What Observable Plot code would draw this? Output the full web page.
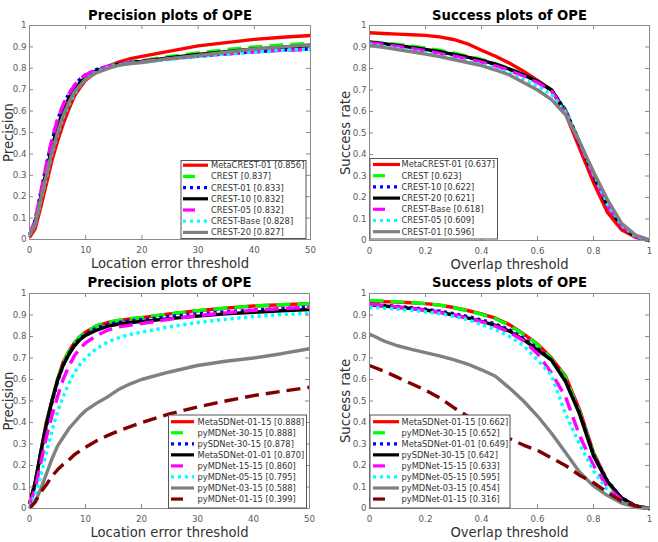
<!DOCTYPE html>
<html>
<head>
<meta charset="utf-8">
<script src="https://cdn.jsdelivr.net/npm/d3@7"></script>
<script src="https://cdn.jsdelivr.net/npm/@observablehq/plot@0.6"></script>
<style>
  body { margin: 0; background: #fff; }
  #chart { position: relative; width: 658px; height: 542px; overflow: hidden; background: #fff; font-family: "DejaVu Sans", sans-serif; }
  #chart svg { position: absolute; }
</style>
</head>
<body>
<div id="chart"></div>
<script>
// ---- thresholds (x values) and tick labels ----
const errorThresholds = [0, 1, 2, 3, 4, 5, 6, 7, 8, 9, 10, 12, 14, 16, 18, 20, 25, 30, 35, 40, 45, 50];
const overlapThresholds = [0, 0.05, 0.1, 0.15, 0.2, 0.25, 0.3, 0.35, 0.4, 0.45, 0.5, 0.55, 0.6, 0.65, 0.7, 0.75, 0.8, 0.85, 0.9, 0.95, 1];
const errorTicks = [0, 10, 20, 30, 40, 50];
const overlapTicks = [0, 0.2, 0.4, 0.6, 0.8, 1];
const rateTicks = [0, 0.1, 0.2, 0.3, 0.4, 0.5, 0.6, 0.7, 0.8, 0.9, 1];

// ---- series appearance, in legend order ----
const seriesColors = ["#ff0000", "#00ff00", "#0000ff", "#000000", "#ff00ff", "#00ffff", "#808080", "#800000"];
const seriesKinds = ["solid", "dash", "dot", "solid", "dash", "dot", "solid", "dash"];

// ---- CREST: precision plot ----
const crestPrecNames = ["MetaCREST-01", "CREST", "CREST-01", "CREST-10", "CREST-05", "CREST-Base", "CREST-20"];
const crestPrecScores = [0.856, 0.837, 0.833, 0.832, 0.832, 0.828, 0.827];
const crestPrecCurves = [
  [0.01, 0.05, 0.15, 0.26, 0.37, 0.46, 0.54, 0.61, 0.67, 0.71, 0.745, 0.785, 0.81, 0.83, 0.845, 0.856, 0.88, 0.905, 0.92, 0.935, 0.945, 0.953],
  [0.02, 0.07, 0.18, 0.30, 0.41, 0.50, 0.58, 0.64, 0.69, 0.725, 0.755, 0.79, 0.81, 0.822, 0.831, 0.837, 0.855, 0.872, 0.887, 0.90, 0.909, 0.917],
  [0.02, 0.09, 0.22, 0.35, 0.46, 0.56, 0.63, 0.68, 0.72, 0.75, 0.77, 0.795, 0.81, 0.82, 0.828, 0.833, 0.845, 0.857, 0.868, 0.877, 0.885, 0.89],
  [0.02, 0.08, 0.20, 0.32, 0.43, 0.53, 0.60, 0.66, 0.70, 0.735, 0.76, 0.79, 0.805, 0.818, 0.826, 0.832, 0.85, 0.865, 0.878, 0.89, 0.898, 0.905],
  [0.02, 0.09, 0.22, 0.35, 0.47, 0.56, 0.63, 0.68, 0.72, 0.75, 0.77, 0.795, 0.81, 0.82, 0.827, 0.832, 0.845, 0.857, 0.867, 0.877, 0.884, 0.888],
  [0.02, 0.07, 0.18, 0.29, 0.40, 0.49, 0.57, 0.63, 0.68, 0.72, 0.75, 0.785, 0.805, 0.816, 0.823, 0.828, 0.842, 0.855, 0.866, 0.876, 0.884, 0.89],
  [0.02, 0.07, 0.19, 0.30, 0.41, 0.50, 0.58, 0.64, 0.69, 0.72, 0.75, 0.78, 0.80, 0.815, 0.822, 0.827, 0.845, 0.86, 0.875, 0.89, 0.90, 0.91]
];

// ---- CREST: success plot ----
const crestSuccNames = ["MetaCREST-01", "CREST", "CREST-10", "CREST-20", "CREST-Base", "CREST-05", "CREST-01"];
const crestSuccScores = [0.637, 0.623, 0.622, 0.621, 0.618, 0.609, 0.596];
const crestSuccCurves = [
  [0.966, 0.963, 0.960, 0.957, 0.954, 0.947, 0.935, 0.915, 0.885, 0.857, 0.825, 0.787, 0.745, 0.700, 0.590, 0.430, 0.270, 0.130, 0.050, 0.015, 0.0],
  [0.925, 0.918, 0.912, 0.905, 0.895, 0.885, 0.872, 0.858, 0.842, 0.823, 0.800, 0.772, 0.740, 0.700, 0.610, 0.460, 0.305, 0.165, 0.070, 0.020, 0.0],
  [0.921, 0.914, 0.906, 0.897, 0.888, 0.877, 0.865, 0.852, 0.837, 0.819, 0.796, 0.770, 0.739, 0.699, 0.605, 0.458, 0.302, 0.162, 0.069, 0.019, 0.0],
  [0.922, 0.915, 0.907, 0.898, 0.889, 0.878, 0.866, 0.853, 0.838, 0.820, 0.797, 0.771, 0.740, 0.700, 0.600, 0.455, 0.300, 0.160, 0.068, 0.018, 0.0],
  [0.920, 0.912, 0.903, 0.893, 0.882, 0.870, 0.858, 0.845, 0.830, 0.812, 0.790, 0.765, 0.735, 0.695, 0.600, 0.455, 0.300, 0.160, 0.068, 0.018, 0.0],
  [0.912, 0.903, 0.893, 0.883, 0.872, 0.860, 0.847, 0.833, 0.818, 0.800, 0.778, 0.750, 0.718, 0.680, 0.595, 0.460, 0.310, 0.170, 0.072, 0.020, 0.0],
  [0.907, 0.898, 0.888, 0.878, 0.867, 0.855, 0.842, 0.828, 0.813, 0.793, 0.770, 0.735, 0.700, 0.655, 0.585, 0.460, 0.320, 0.190, 0.080, 0.025, 0.003]
];

// ---- MDNet / SDNet: precision plot ----
const netPrecNames = ["MetaSDNet-01-15", "pyMDNet-30-15", "pySDNet-30-15", "MetaSDNet-01-01", "pyMDNet-15-15", "pyMDNet-05-15", "pyMDNet-03-15", "pyMDNet-01-15"];
const netPrecScores = [0.888, 0.888, 0.878, 0.870, 0.860, 0.795, 0.588, 0.399];
const netPrecCurves = [
  [0.02, 0.12, 0.26, 0.40, 0.50, 0.60, 0.68, 0.73, 0.77, 0.80, 0.82, 0.85, 0.865, 0.875, 0.882, 0.888, 0.905, 0.92, 0.932, 0.942, 0.948, 0.953],
  [0.02, 0.11, 0.25, 0.39, 0.50, 0.60, 0.675, 0.73, 0.77, 0.80, 0.82, 0.85, 0.866, 0.876, 0.883, 0.888, 0.905, 0.92, 0.932, 0.942, 0.948, 0.952],
  [0.02, 0.11, 0.25, 0.38, 0.49, 0.59, 0.665, 0.72, 0.76, 0.79, 0.81, 0.84, 0.856, 0.866, 0.873, 0.878, 0.893, 0.905, 0.915, 0.923, 0.93, 0.937],
  [0.02, 0.12, 0.26, 0.39, 0.50, 0.595, 0.665, 0.715, 0.755, 0.785, 0.805, 0.83, 0.848, 0.858, 0.865, 0.87, 0.883, 0.895, 0.905, 0.913, 0.92, 0.925],
  [0.02, 0.09, 0.21, 0.33, 0.43, 0.52, 0.60, 0.66, 0.71, 0.745, 0.77, 0.805, 0.83, 0.845, 0.853, 0.86, 0.88, 0.897, 0.91, 0.922, 0.93, 0.936],
  [0.01, 0.06, 0.15, 0.26, 0.36, 0.45, 0.52, 0.58, 0.63, 0.67, 0.70, 0.745, 0.775, 0.795, 0.81, 0.82, 0.845, 0.865, 0.88, 0.893, 0.902, 0.908],
  [0.005, 0.03, 0.09, 0.16, 0.23, 0.29, 0.33, 0.37, 0.40, 0.43, 0.455, 0.49, 0.52, 0.555, 0.58, 0.60, 0.635, 0.665, 0.685, 0.70, 0.72, 0.743],
  [0.0, 0.03, 0.075, 0.11, 0.15, 0.18, 0.205, 0.225, 0.25, 0.268, 0.285, 0.315, 0.34, 0.362, 0.381, 0.399, 0.44, 0.472, 0.50, 0.525, 0.545, 0.564]
];

// ---- MDNet / SDNet: success plot ----
const netSuccNames = ["MetaSDNet-01-15", "pyMDNet-30-15", "MetaSDNet-01-01", "pySDNet-30-15", "pyMDNet-15-15", "pyMDNet-05-15", "pyMDNet-03-15", "pyMDNet-01-15"];
const netSuccScores = [0.662, 0.652, 0.649, 0.642, 0.633, 0.595, 0.454, 0.316];
const netSuccCurves = [
  [0.964, 0.962, 0.960, 0.957, 0.953, 0.946, 0.935, 0.921, 0.905, 0.885, 0.855, 0.812, 0.765, 0.70, 0.615, 0.46, 0.26, 0.125, 0.045, 0.01, 0.0],
  [0.968, 0.965, 0.962, 0.958, 0.953, 0.946, 0.935, 0.920, 0.903, 0.882, 0.852, 0.81, 0.762, 0.695, 0.61, 0.45, 0.255, 0.12, 0.045, 0.01, 0.0],
  [0.95, 0.945, 0.94, 0.934, 0.927, 0.918, 0.906, 0.893, 0.877, 0.858, 0.832, 0.792, 0.745, 0.69, 0.595, 0.445, 0.25, 0.128, 0.05, 0.012, 0.0],
  [0.947, 0.942, 0.936, 0.93, 0.923, 0.913, 0.9, 0.887, 0.87, 0.852, 0.825, 0.785, 0.738, 0.69, 0.59, 0.44, 0.245, 0.125, 0.05, 0.012, 0.0],
  [0.95, 0.945, 0.938, 0.93, 0.922, 0.912, 0.9, 0.886, 0.868, 0.848, 0.82, 0.78, 0.72, 0.63, 0.52, 0.34, 0.2, 0.1, 0.04, 0.01, 0.0],
  [0.936, 0.932, 0.927, 0.922, 0.915, 0.906, 0.894, 0.878, 0.856, 0.832, 0.8, 0.758, 0.69, 0.62, 0.44, 0.3, 0.175, 0.085, 0.03, 0.008, 0.0],
  [0.812, 0.78, 0.757, 0.74, 0.725, 0.71, 0.692, 0.672, 0.645, 0.615, 0.56, 0.5, 0.43, 0.35, 0.26, 0.17, 0.105, 0.06, 0.025, 0.006, 0.0],
  [0.665, 0.64, 0.61, 0.58, 0.55, 0.515, 0.47, 0.43, 0.395, 0.36, 0.325, 0.295, 0.27, 0.235, 0.2, 0.155, 0.12, 0.075, 0.035, 0.012, 0.0]
];

// ---- drawing ----
const frameColor = "#8a8a8a";
const dashFor = kind => kind === "dash" ? "14 7" : kind === "dot" ? "3.2 3.6" : null;

function panel(cfg) {
  const { left, top, width, height, margin, xs, xDomain, xTicks, curves, names, scores,
          title, xLabel, yLabel, yLabelDx, titleDy, legend } = cfg;
  const W = width - margin.left - margin.right;
  const H = height - margin.top - margin.bottom;
  const lines = curves.map((curve, s) => Plot.line(curve, {
    x: (d, i) => xs[i], y: d => d,
    stroke: seriesColors[s], strokeWidth: 3.4,
    strokeDasharray: dashFor(seriesKinds[s]),
    strokeLinecap: "butt", strokeLinejoin: "round"
  }));
  const svg = Plot.plot({
    width, height,
    marginLeft: margin.left, marginRight: margin.right,
    marginTop: margin.top, marginBottom: margin.bottom,
    x: { domain: xDomain },
    y: { domain: [0, 1] },
    style: { fontFamily: "DejaVu Sans, sans-serif", fontSize: "8.7px", color: "#5a5a5a", background: "transparent", overflow: "visible" },
    marks: [
      ...lines,
      Plot.frame({ stroke: frameColor, strokeWidth: 1 }),
      Plot.tickX(xTicks, { x: d => d, insetTop: H - 4, stroke: frameColor }),
      Plot.tickX(xTicks, { x: d => d, insetBottom: H - 4, stroke: frameColor }),
      Plot.tickY(rateTicks, { y: d => d, insetRight: W - 4, stroke: frameColor }),
      Plot.tickY(rateTicks, { y: d => d, insetLeft: W - 4, stroke: frameColor }),
      Plot.axisX({ ticks: xTicks, tickSize: 0, tickPadding: 7, tickFormat: d => String(d), label: null, fontSize: 8.7 }),
      Plot.axisY({ ticks: rateTicks, tickSize: 0, tickPadding: 3, tickFormat: d => String(d), label: null, fontSize: 8.7 }),
      Plot.text([title], { text: d => d, frameAnchor: "top", dy: titleDy, textAnchor: "middle", lineAnchor: "middle",
                           fontSize: 13.2, fontWeight: "bold", fill: "#000" }),
      Plot.text([xLabel], { text: d => d, frameAnchor: "bottom", dy: 24, textAnchor: "middle", lineAnchor: "middle",
                            fontSize: 13.2, fill: "#333" }),
      Plot.text([yLabel], { text: d => d, frameAnchor: "left", dx: yLabelDx, rotate: -90, textAnchor: "middle", lineAnchor: "middle",
                            fontSize: 13.2, fill: "#333" })
    ]
  });
  svg.style.left = left + "px";
  svg.style.top = top + "px";

  // legend box in the corner of the axes
  const g = d3.select(svg).append("g")
    .attr("font-family", "DejaVu Sans, sans-serif")
    .attr("font-size", 8.3)
    .attr("text-anchor", "start");
  g.append("rect")
    .attr("x", legend.x).attr("y", legend.y)
    .attr("width", legend.w).attr("height", legend.h)
    .attr("fill", "#fff").attr("stroke", "#555").attr("stroke-width", 1);
  names.forEach((name, s) => {
    const cy = legend.row0 + s * legend.step;
    const kind = seriesKinds[s];
    g.append("line")
      .attr("x1", legend.sx).attr("x2", legend.sx + (kind === "dash" ? 12 : legend.sample))
      .attr("y1", cy).attr("y2", cy)
      .attr("stroke", seriesColors[s]).attr("stroke-width", 3.2)
      .attr("stroke-dasharray", kind === "dot" ? "3 4" : null);
    g.append("text")
      .attr("x", legend.tx).attr("y", cy).attr("dy", "0.35em")
      .attr("text-anchor", "start")
      .attr("fill", "#333")
      .text(`${name} [${scores[s].toFixed(3)}]`);
  });
  document.getElementById("chart").appendChild(svg);
}

panel({
  left: 0, top: 0, width: 329, height: 270,
  margin: { left: 29, right: 19, top: 25, bottom: 31 },
  xs: errorThresholds, xDomain: [0, 50], xTicks: errorTicks,
  curves: crestPrecCurves, names: crestPrecNames, scores: crestPrecScores,
  title: "Precision plots of OPE", titleDy: -10,
  xLabel: "Location error threshold", yLabel: "Precision", yLabelDx: -21,
  legend: { x: 181, y: 160.5, w: 125, h: 78, row0: 165.2, step: 11.2, sx: 183, sample: 25, tx: 211 }
});

panel({
  left: 329, top: 0, width: 329, height: 270,
  margin: { left: 40, right: 9, top: 25, bottom: 30 },
  xs: overlapThresholds, xDomain: [0, 1], xTicks: overlapTicks,
  curves: crestSuccCurves, names: crestSuccNames, scores: crestSuccScores,
  title: "Success plots of OPE", titleDy: -10,
  xLabel: "Overlap threshold", yLabel: "Success rate", yLabelDx: -24,
  legend: { x: 41, y: 158.5, w: 127.5, h: 80.5, row0: 164.5, step: 11.2, sx: 44, sample: 27, tx: 72.5 }
});

panel({
  left: 0, top: 270, width: 329, height: 272,
  margin: { left: 29, right: 20, top: 23, bottom: 34 },
  xs: errorThresholds, xDomain: [0, 50], xTicks: errorTicks,
  curves: netPrecCurves, names: netPrecNames, scores: netPrecScores,
  title: "Precision plots of OPE", titleDy: -11,
  xLabel: "Location error threshold", yLabel: "Precision", yLabelDx: -21,
  legend: { x: 168.5, y: 145, w: 138, h: 93, row0: 151.7, step: 11.05, sx: 171, sample: 23, tx: 197.5 }
});

panel({
  left: 329, top: 270, width: 329, height: 272,
  margin: { left: 40, right: 9, top: 23, bottom: 34 },
  xs: overlapThresholds, xDomain: [0, 1], xTicks: overlapTicks,
  curves: netSuccCurves, names: netSuccNames, scores: netSuccScores,
  title: "Success plots of OPE", titleDy: -11,
  xLabel: "Overlap threshold", yLabel: "Success rate", yLabelDx: -24,
  legend: { x: 41, y: 145, w: 140, h: 93, row0: 151.7, step: 11.05, sx: 44, sample: 26, tx: 72.5 }
});
</script>
</body>
</html>
